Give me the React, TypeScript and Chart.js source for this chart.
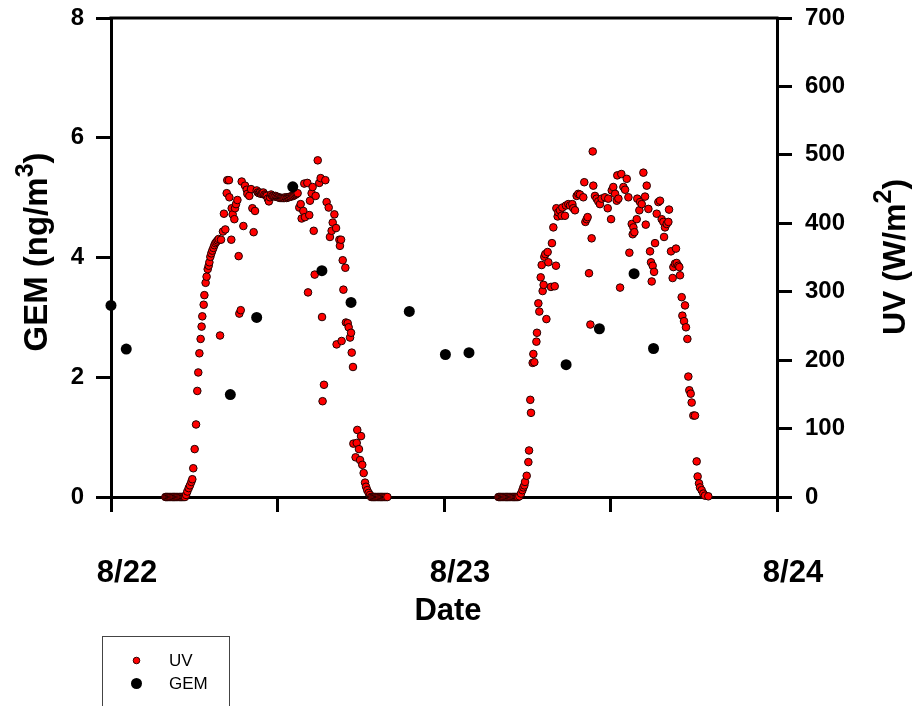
import React, { useEffect, useRef } from "react";
import { Chart, registerables } from "chart.js";

Chart.register(...registerables);

const FONT = "'Liberation Sans', Arial, Helvetica, sans-serif";

// X axis: hours since 8/22 00:00
const xTickHours = [0, 12, 24, 36, 48];
const xTickLabels = ["8/22", "", "8/23", "", "8/24"];

// GEM (ng/m3), left axis
const gemHours = [0.0, 1.1, 8.6, 10.5, 13.1, 15.2, 17.3, 21.5, 24.1, 25.8, 32.8, 35.2, 37.7, 39.1];
const gemValues = [3.2, 2.47, 1.71, 3.0, 5.18, 3.78, 3.25, 3.1, 2.38, 2.41, 2.21, 2.81, 3.73, 2.48];

// UV (W/m2), right axis — day 1
const uvHoursDay1 = [
  3.92, 4.0, 4.08, 4.17, 4.25, 4.33, 4.42, 4.5, 4.58, 4.67, 4.75, 4.83, 4.92, 5.0, 5.08, 5.17, 5.25, 5.33,
  5.41, 5.5, 5.6, 5.69, 5.79, 5.86, 5.93, 6.03, 6.13, 6.22, 6.29, 6.37, 6.46, 6.53, 6.58, 6.68, 6.73, 6.82,
  6.89, 6.97, 7.04, 7.09, 7.16, 7.23, 7.3, 7.38, 7.45, 7.52, 7.6, 7.68, 7.76, 7.86, 7.93, 8.07, 8.14, 8.24,
  8.34, 8.38, 8.5, 8.53, 8.67, 8.7, 8.77, 8.89, 8.94, 9.01, 9.11, 9.2, 9.25, 9.35, 9.42, 9.54, 9.66, 9.78,
  9.83, 9.97, 10.09, 10.19, 10.28, 10.38, 10.5, 10.58, 10.66, 10.74, 10.82, 10.9, 10.98, 11.06, 11.14, 11.22,
  11.3, 11.38, 11.46, 11.54, 11.62, 11.7, 11.78, 11.86, 11.94, 12.02, 12.1, 12.18, 12.26, 12.34, 12.42, 12.5,
  12.58, 12.66, 12.74, 12.82, 12.9, 12.98, 13.06, 13.14, 13.22, 13.3, 13.38, 13.45, 13.57, 13.67, 13.74, 13.86,
  13.93, 13.98, 14.15, 14.2, 14.29, 14.34, 14.46, 14.53, 14.61, 14.68, 14.75, 14.9, 15.01, 15.11, 15.21, 15.25,
  15.35, 15.45, 15.54, 15.69, 15.78, 15.9, 15.98, 16.1, 16.22, 16.26, 16.46, 16.5, 16.58, 16.62, 16.7, 16.75,
  16.89, 16.93, 17.06, 17.13, 17.23, 17.3, 17.35, 17.44, 17.47, 17.63, 17.71, 17.75, 17.87, 17.95, 18.02, 18.11,
  18.21, 18.31, 18.38, 18.47, 18.57, 18.67, 18.75, 18.83, 18.92, 19.0, 19.08, 19.17, 19.25, 19.33, 19.42, 19.5,
  19.58, 19.67, 19.75, 19.83, 19.92,
];
const uvValuesDay1 = [
  0, 0, 0, 0, 0, 0, 0, 0, 0, 0, 0, 0, 0, 0, 0, 0, 0, 0,
  3, 8, 13, 17, 22, 26, 42, 70, 106, 155, 182, 210, 231, 249, 264, 281, 295, 313,
  322, 333, 338, 343, 351, 356, 360, 364, 368, 371, 373, 375, 377, 236, 376, 388, 414, 391,
  444, 463, 463, 438, 376, 422, 413, 406, 422, 428, 434, 352, 268, 273, 461, 396, 455, 449,
  443, 440, 450, 422, 387, 418, 448, 445, 444, 445, 443, 444, 445, 442, 441, 440,
  436, 432, 438, 442, 440, 440, 439, 440, 439, 438, 438, 437, 437, 437, 437, 437,
  438, 437, 438, 438, 439, 439, 440, 440, 441, 442, 443, 444, 423, 428, 407, 418,
  458, 409, 459, 299, 412, 433, 444, 453, 389, 325, 440, 492, 459, 466, 263, 140,
  164, 463, 431, 423, 380, 389, 401, 413, 393, 223, 376, 367, 376, 228, 346, 303,
  335, 255, 254, 248, 233, 240, 211, 190, 78, 58, 79, 98, 70, 54, 89, 47,
  35, 21, 15, 10, 6, 3, 0, 0, 0, 0, 0, 0, 0, 0, 0, 0,
  0, 0, 0, 0, 0,
];

// UV (W/m2), right axis — day 2
const uvHoursDay2 = [
  27.92, 28.0, 28.08, 28.17, 28.25, 28.33, 28.42, 28.5, 28.58, 28.67, 28.75, 28.83, 28.92, 29.0, 29.08, 29.17, 29.25, 29.33,
  29.43, 29.55, 29.65, 29.72, 29.79, 29.84, 29.96, 30.08, 30.13, 30.22, 30.27, 30.39, 30.44, 30.51, 30.66, 30.7,
  30.8, 30.87, 30.97, 31.04, 31.11, 31.18, 31.23, 31.3, 31.38, 31.47, 31.52, 31.71, 31.78, 31.88, 31.98, 32.07,
  32.1, 32.19, 32.24, 32.36, 32.48, 32.53, 32.72, 32.79, 32.96, 33.08, 33.25, 33.32, 33.44, 33.56, 33.68, 33.8,
  34.04, 34.11, 34.19, 34.28, 34.35, 34.45, 34.55, 34.64, 34.72, 34.76, 34.88, 35.0, 35.12, 35.24, 35.36, 35.6,
  35.8, 35.84, 36.04, 36.09, 36.2, 36.33, 36.45, 36.49, 36.57, 36.69, 36.78, 36.93, 37.05, 37.17, 37.29, 37.36,
  37.53, 37.6, 37.65, 37.72, 37.89, 37.93, 38.08, 38.13, 38.25, 38.37, 38.49, 38.54, 38.61, 38.73, 38.85, 38.92,
  38.97, 39.04, 39.14, 39.21, 39.33, 39.45, 39.57, 39.69, 39.81, 39.86, 39.93, 40.05, 40.17, 40.22, 40.36, 40.48,
  40.53, 40.65, 40.72, 40.77, 40.89, 40.96, 41.01, 41.13, 41.18, 41.3, 41.37, 41.44, 41.54, 41.61, 41.68, 41.78,
  41.85, 41.97, 42.09, 42.21, 42.28, 42.38, 42.45, 42.57, 42.69, 42.81, 43.05,
];
const uvValuesDay2 = [
  0, 0, 0, 0, 0, 0, 0, 0, 0, 0, 0, 0, 0, 0, 0, 0, 0, 0,
  1, 5, 10, 14, 17, 22, 31, 51, 68, 142, 123, 196, 209, 197, 227, 240,
  283, 271, 321, 339, 301, 310, 351, 355, 260, 358, 343, 307, 371, 394, 308, 338,
  422, 410, 416, 419, 411, 423, 411, 426, 428, 426, 428, 422, 419, 440, 443, 442,
  438, 460, 402, 406, 409, 327, 252, 378, 505, 455, 440, 436, 432, 428, 436, 438,
  422, 436, 406, 448, 453, 443, 433, 470, 436, 306, 472, 453, 449, 465, 438, 357,
  399, 384, 394, 387, 406, 436, 419, 431, 428, 474, 439, 398, 455, 421, 359, 343,
  315, 338, 329, 371, 414, 431, 433, 406, 402, 380, 394, 399, 402, 420, 359, 320,
  336, 341, 363, 342, 338, 336, 324, 292, 265, 257, 280, 248, 231, 176, 156, 151,
  138, 119, 119, 52, 30, 20, 14, 10, 5, 2, 1,
];

const uvHours = [...uvHoursDay1, ...uvHoursDay2];
const uvValues = [...uvValuesDay1, ...uvValuesDay2];

function drawRotatedTitle(
  ctx: CanvasRenderingContext2D,
  parts: { text: string; size: number; raise: number }[],
  baseX: number,
  centerY: number
) {
  ctx.save();
  ctx.translate(baseX, centerY);
  ctx.rotate(-Math.PI / 2);
  ctx.fillStyle = "#000";
  ctx.textBaseline = "alphabetic";
  ctx.textAlign = "left";
  const widths = parts.map((p) => {
    ctx.font = `bold ${p.size}px ${FONT}`;
    return ctx.measureText(p.text).width;
  });
  const total = widths.reduce((a, b) => a + b, 0);
  let x = -total / 2;
  parts.forEach((p, i) => {
    ctx.font = `bold ${p.size}px ${FONT}`;
    ctx.fillText(p.text, x, -p.raise);
    x += widths[i];
  });
  ctx.restore();
}

const decorPlugin = {
  id: "decor",
  beforeDatasetsDraw(chart: any) {
    const ctx = chart.ctx as CanvasRenderingContext2D;
    const { left, right, top } = chart.chartArea;
    ctx.save();
    ctx.strokeStyle = "#000";
    ctx.lineWidth = 3;
    ctx.beginPath();
    ctx.moveTo(left - 1.5, top);
    ctx.lineTo(right + 1.5, top);
    ctx.stroke();
    ctx.restore();
  },
  afterDraw(chart: any) {
    const ctx = chart.ctx as CanvasRenderingContext2D;
    const { left, right } = chart.chartArea;
    drawRotatedTitle(
      ctx,
      [
        { text: "GEM (ng/m", size: 33, raise: 0 },
        { text: "3", size: 25, raise: 14 },
        { text: ")", size: 33, raise: 0 },
      ],
      47,
      252
    );
    drawRotatedTitle(
      ctx,
      [
        { text: "UV (W/m", size: 32, raise: 0 },
        { text: "2", size: 25, raise: 14 },
        { text: ")", size: 32, raise: 0 },
      ],
      905,
      257
    );
    ctx.save();
    ctx.fillStyle = "#000";
    ctx.font = `bold 31px ${FONT}`;
    ctx.textAlign = "center";
    ctx.textBaseline = "middle";
    ctx.fillText("Date", (left + right) / 2 + 4, 611);

    // legend box
    ctx.strokeStyle = "#444";
    ctx.lineWidth = 1;
    ctx.strokeRect(102.5, 636.5, 127, 100);
    ctx.beginPath();
    ctx.arc(136.5, 660.5, 3.3, 0, Math.PI * 2);
    ctx.fillStyle = "#ff0000";
    ctx.fill();
    ctx.strokeStyle = "#330000";
    ctx.stroke();
    ctx.beginPath();
    ctx.arc(136.5, 683.5, 5.5, 0, Math.PI * 2);
    ctx.fillStyle = "#000";
    ctx.fill();
    ctx.font = `17px ${FONT}`;
    ctx.textAlign = "left";
    ctx.textBaseline = "middle";
    ctx.fillStyle = "#000";
    ctx.fillText("UV", 169, 661);
    ctx.fillText("GEM", 169, 684);
    ctx.restore();
  },
};

export default function App() {
  const ref = useRef<HTMLCanvasElement>(null);

  useEffect(() => {
    if (!ref.current) return;
    const gemData = gemHours.map((h, i) => ({ x: h, y: gemValues[i] }));
    const uvData = uvHours.map((h, i) => ({ x: h, y: uvValues[i] }));

    const axisGrid = {
      display: true,
      drawOnChartArea: false,
      drawTicks: true,
      tickLength: 15,
      lineWidth: 3,
      tickWidth: 3,
      color: "#000",
      tickColor: "#000",
    };
    const axisBorder = { display: true, width: 3, color: "#000" };

    const chart = new Chart(ref.current, {
      type: "scatter",
      data: {
        datasets: [
          {
            label: "GEM",
            data: gemData,
            xAxisID: "x",
            yAxisID: "y",
            pointRadius: 5.5,
            pointHoverRadius: 5.5,
            backgroundColor: "#000",
            borderColor: "#000",
            borderWidth: 0,
            order: 0,
            clip: false,
          },
          {
            label: "UV",
            data: uvData,
            xAxisID: "x",
            yAxisID: "y2",
            pointRadius: 3.8,
            pointHoverRadius: 3.8,
            backgroundColor: "#ff0000",
            borderColor: "#200000",
            borderWidth: 1,
            order: 1,
            clip: false,
          },
        ],
      },
      options: {
        responsive: true,
        maintainAspectRatio: false,
        animation: false,
        events: [],
        layout: { padding: { top: 18, left: 0, right: 0, bottom: 0 } },
        plugins: {
          legend: { display: false },
          tooltip: { enabled: false },
          title: { display: false },
        },
        scales: {
          x: {
            type: "linear",
            position: "bottom",
            min: 0,
            max: 48,
            afterBuildTicks: (scale: any) => {
              scale.ticks = xTickHours.map((v) => ({ value: v }));
            },
            afterFit: (scale: any) => {
              scale.height = 209;
              scale.paddingLeft = 0;
              scale.paddingRight = 0;
            },
            ticks: {
              callback: (value: any) => {
                const i = xTickHours.indexOf(Number(value));
                return i >= 0 ? xTickLabels[i] : "";
              },
              font: { family: FONT, size: 31, weight: "bold" },
              color: "#000",
              padding: 43,
              labelOffset: 16,
              maxRotation: 0,
              minRotation: 0,
              autoSkip: false,
            },
            grid: axisGrid,
            border: axisBorder,
          },
          y: {
            type: "linear",
            position: "left",
            min: 0,
            max: 8,
            afterFit: (scale: any) => {
              scale.width = 111;
              scale.paddingTop = 0;
              scale.paddingBottom = 0;
            },
            ticks: {
              stepSize: 2,
              font: { family: FONT, size: 24, weight: "bold" },
              color: "#000",
              padding: 12,
            },
            grid: axisGrid,
            border: axisBorder,
          },
          y2: {
            type: "linear",
            position: "right",
            min: 0,
            max: 700,
            afterFit: (scale: any) => {
              scale.width = 140;
              scale.paddingTop = 0;
              scale.paddingBottom = 0;
            },
            ticks: {
              stepSize: 100,
              font: { family: FONT, size: 24, weight: "bold" },
              color: "#000",
              padding: 13,
            },
            grid: axisGrid,
            border: axisBorder,
          },
        },
      },
      plugins: [decorPlugin],
    } as any);

    return () => chart.destroy();
  }, []);

  return (
    <div
      style={{
        position: "fixed",
        left: 0,
        top: 0,
        width: "917px",
        height: "706px",
        background: "#fff",
      }}
    >
      <canvas ref={ref} />
    </div>
  );
}
